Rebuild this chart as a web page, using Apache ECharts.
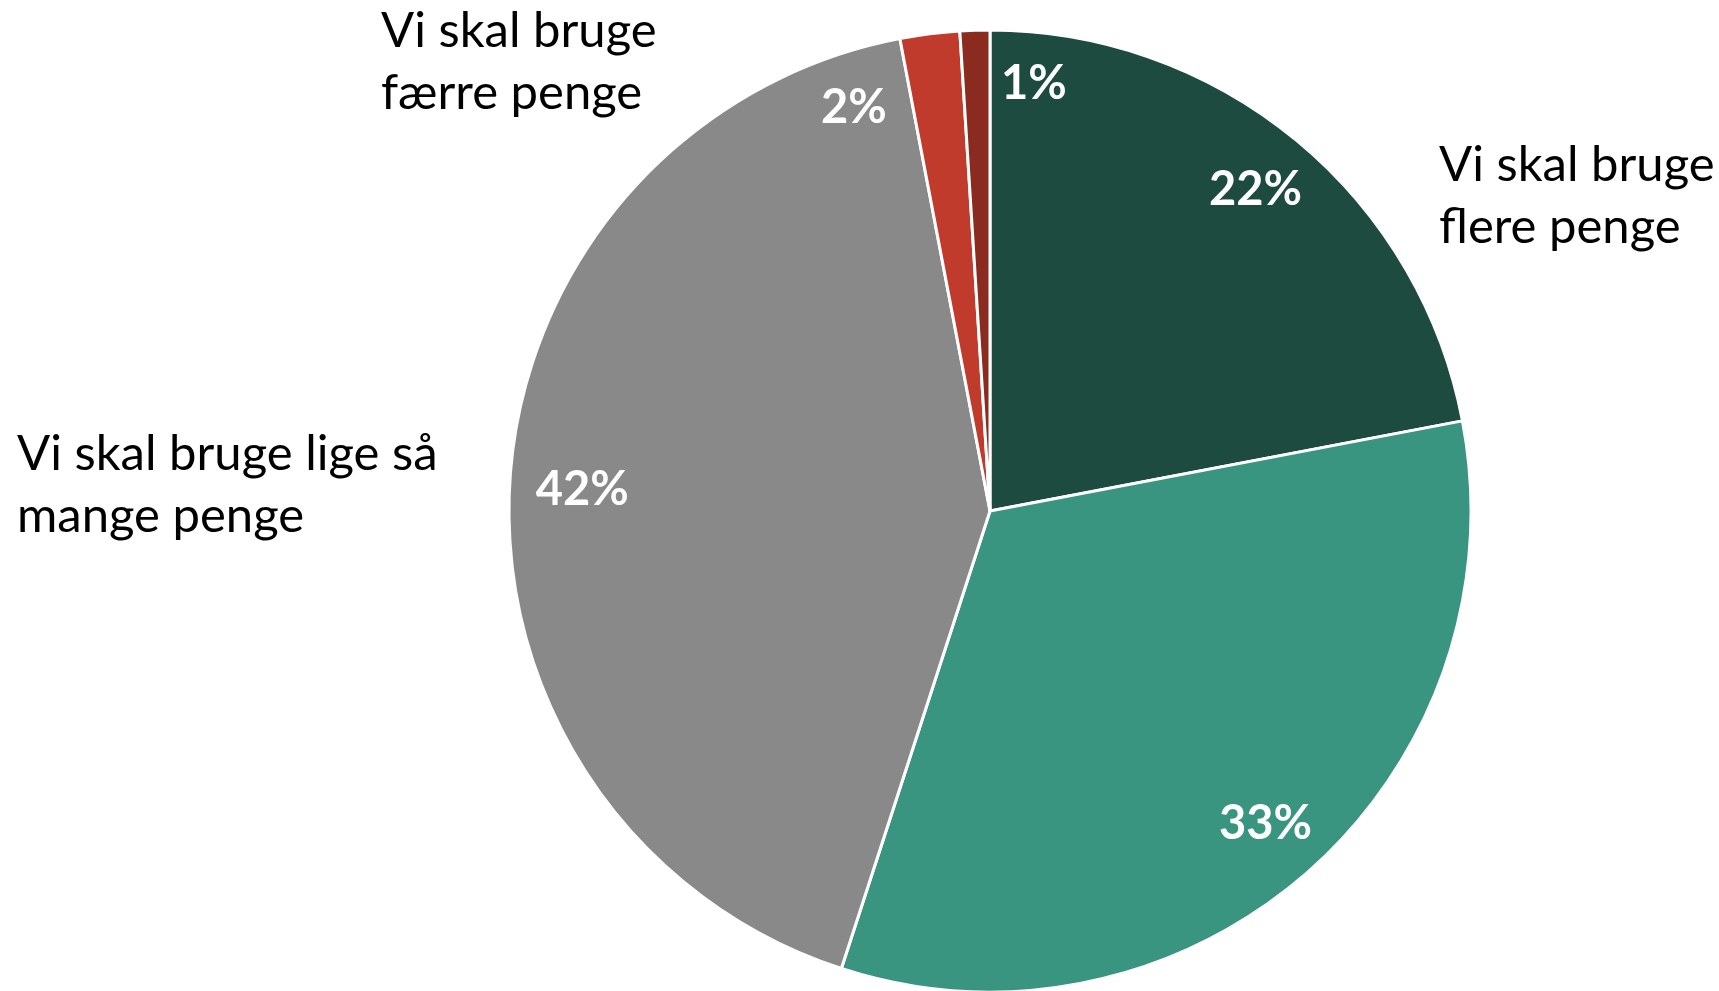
<!DOCTYPE html>
<html>
<head>
<meta charset="utf-8">
<script src="https://cdn.jsdelivr.net/npm/echarts@6/dist/echarts.min.js"></script>
<style>
html,body{margin:0;padding:0;background:#fff;}
#chart{width:1719px;height:991px;}
</style>
</head>
<body>
<div id="chart"></div>
<script>
// Data
const categories = [
  "Vi skal bruge\nflere penge",
  "Vi skal bruge\nmeget flere penge",
  "Vi skal bruge lige så\nmange penge",
  "Vi skal bruge\nfærre penge",
  "Vi skal bruge\nmeget færre penge"
];
const values = [22, 33, 42, 2, 1];
const showName = [true, false, true, true, false];
const colors = ["#1E4B40", "#3A9580", "#898989", "#C13B2C", "#8B2A1F"];

// Layout (style only)
const R = 481;
const CENTER = [990, 511];
const nameAnchors = {0: [1439, 196], 2: [17, 485], 3: [381, 62]};
const pctShift = {2: [8, 5], 3: [-84, 10], 4: [57, -11]};
const FONT = "Lato, 'Open Sans', sans-serif";

const chart = echarts.init(document.getElementById('chart'), null, {renderer: 'canvas'});

const mainData = categories.map((c, i) => ({
  name: c,
  value: values[i],
  itemStyle: {color: colors[i]},
  label: {show: showName[i]}
}));
const pctData = categories.map((c, i) => ({
  name: c,
  value: values[i]
}));

chart.setOption({
  animation: false,
  backgroundColor: '#ffffff',
  series: [
    {
      type: 'pie',
      center: CENTER,
      radius: [0, R],
      startAngle: 90,
      clockwise: true,
      avoidLabelOverlap: false,
      silent: true,
      itemStyle: {borderColor: '#ffffff', borderWidth: 3},
      label: {
        position: 'outside',
        formatter: '{b}',
        color: '#000000',
        fontFamily: FONT,
        fontSize: 49,
        lineHeight: 62
      },
      labelLine: {show: false},
      labelLayout: function (p) {
        const a = nameAnchors[p.dataIndex];
        if (!a) return {};
        return {x: a[0], y: a[1], align: 'left', verticalAlign: 'middle'};
      },
      data: mainData
    },
    {
      type: 'pie',
      center: CENTER,
      radius: [R * 0.72, R],
      startAngle: 90,
      clockwise: true,
      silent: true,
      avoidLabelOverlap: false,
      itemStyle: {color: 'rgba(0,0,0,0)', borderWidth: 0},
      label: {
        position: 'inside',
        formatter: '{c}%',
        color: '#ffffff',
        fontFamily: FONT,
        fontWeight: 'bold',
        fontSize: 47
      },
      labelLine: {show: false},
      labelLayout: function (p) {
        const s = pctShift[p.dataIndex];
        if (!s) return {};
        return {dx: s[0], dy: s[1]};
      },
      data: pctData
    }
  ]
});
</script>
</body>
</html>
